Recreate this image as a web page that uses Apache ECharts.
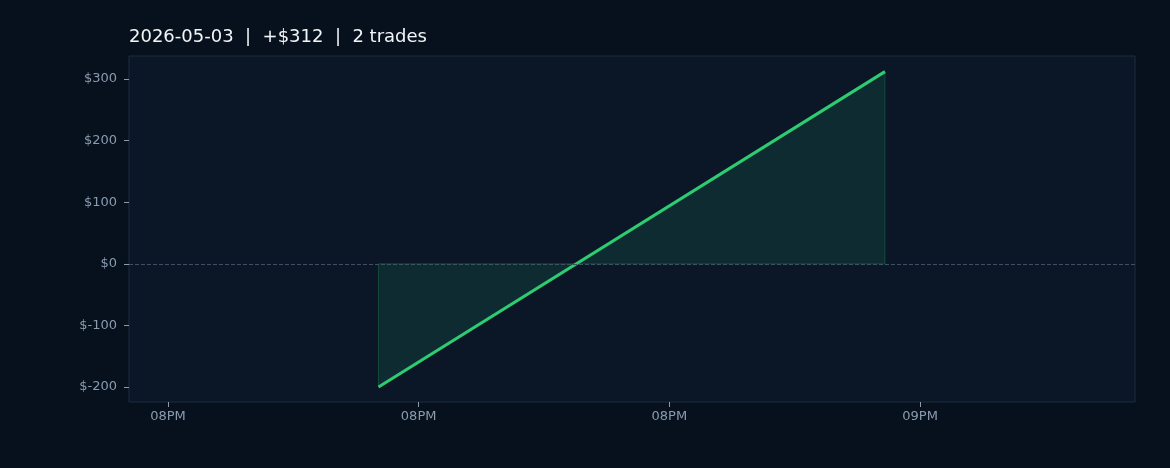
<!DOCTYPE html>
<html><head><meta charset="utf-8">
<script src="https://cdn.jsdelivr.net/npm/echarts@6/dist/echarts.min.js"></script>
<style>html,body{margin:0;padding:0;background:#07111d}#c{width:1170px;height:468px}</style>
</head><body><div id="c"></div>
<script>
// minutes after 20:00
const tradeMinutes = [27.6, 57.9];
const cumPnl = [-200, 312];
const tickMinutes = [15, 30, 45, 60];
const tickLabels = ['08PM', '08PM', '08PM', '09PM'];
const yTicks = [-200, -100, 0, 100, 200, 300];
const titleText = '2026-05-03  |  +$312  |  2 trades';

const chart = echarts.init(document.getElementById('c'));
chart.setOption({
  backgroundColor: '#07111d',
  animation: false,
  title: { text: titleText, left: 124, top: 23, textStyle: { color: '#f2f5f8', fontSize: 18, fontWeight: 'normal', fontFamily: 'DejaVu Sans' } },
  grid: { left: 129, right: 35, top: 56, bottom: 66, show: true, backgroundColor: '#0b1627', borderColor: '#1d2d42', borderWidth: 1 },
  xAxis: {
    type: 'value', min: 12.67, max: 72.86,
    axisLine: { show: false, onZero: false }, splitLine: { show: false },
    axisTick: { show: true, length: 5, lineStyle: { color: '#8a9bb0' }, customValues: tickMinutes },
    axisLabel: { color: '#8a9bb0', fontSize: 13, fontFamily: 'DejaVu Sans', margin: 8, customValues: tickMinutes,
      formatter: v => tickLabels[tickMinutes.indexOf(v)] || '' }
  },
  yAxis: {
    type: 'value', min: -224.4, max: 337.4,
    axisLine: { show: false, onZero: false }, splitLine: { show: false },
    axisTick: { show: true, length: 5, lineStyle: { color: '#8a9bb0' }, customValues: yTicks },
    axisLabel: { color: '#8a9bb0', fontSize: 13, fontFamily: 'DejaVu Sans', margin: 12, customValues: yTicks,
      formatter: v => '$' + v }
  },
  series: [{
    type: 'line', symbol: 'none',
    data: tradeMinutes.map((m, i) => [m, cumPnl[i]]),
    lineStyle: { color: '#2ecc71', width: 3 },
    areaStyle: { origin: 0, color: 'rgba(22,110,80,0.35)' },
    markLine: { silent: true, symbol: 'none', label: { show: false },
      lineStyle: { color: '#3e5263', type: 'dashed', width: 1 }, data: [{ yAxis: 0 }] }
  }, {
    type: 'line', symbol: 'none', silent: true,
    data: [[tradeMinutes[0], 0], [tradeMinutes[0], cumPnl[0]]],
    lineStyle: { color: 'rgba(46,204,113,0.25)', width: 1 }
  }, {
    type: 'line', symbol: 'none', silent: true,
    data: [[tradeMinutes[1], 0], [tradeMinutes[1], cumPnl[1]]],
    lineStyle: { color: 'rgba(46,204,113,0.25)', width: 1 }
  }, {
    type: 'line', symbol: 'none', silent: true,
    data: [[tradeMinutes[0], 0], [tradeMinutes[1], 0]],
    lineStyle: { color: 'rgba(46,204,113,0.25)', width: 1 }
  }]
});
</script></body></html>
